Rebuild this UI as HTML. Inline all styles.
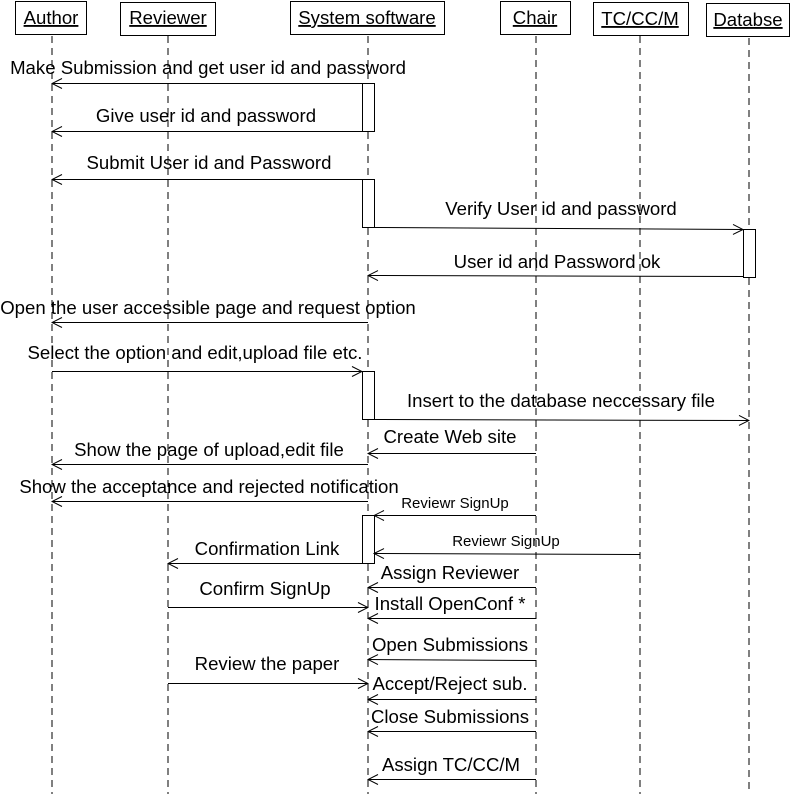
<!DOCTYPE html>
<html><head><style>
html,body{margin:0;padding:0;background:#fff;}
svg{display:block;}
text{font-family:"Liberation Sans",Arial,sans-serif;font-size:18.6px;fill:#000;}
.s{font-size:15px;}
.ll{stroke:#000;stroke-width:1;stroke-dasharray:7,5;}
.m{stroke:#000;stroke-width:1;fill:none;}
</style></head><body>
<svg width="793" height="794" viewBox="0 0 793 794" xmlns="http://www.w3.org/2000/svg">
<defs>
<marker id="a" markerWidth="12" markerHeight="12" refX="11" refY="6" orient="auto" markerUnits="userSpaceOnUse">
<path d="M1,1 L11,6 L1,11" fill="none" stroke="#000" stroke-width="1"/></marker>
</defs>
<line class="ll" x1="52" y1="36" x2="52" y2="794"/>
<line class="ll" x1="168" y1="36" x2="168" y2="794"/>
<line class="ll" x1="368" y1="36" x2="368" y2="794"/>
<line class="ll" x1="536" y1="36" x2="536" y2="794"/>
<line class="ll" x1="640" y1="36" x2="640" y2="794"/>
<line class="ll" x1="749" y1="38" x2="749" y2="794"/>
<g fill="#fff" stroke="#000">
<rect x="15.5" y="1.5" width="71" height="33"/>
<rect x="120.5" y="2.5" width="95" height="33"/>
<rect x="290.5" y="1.5" width="154" height="33"/>
<rect x="500.5" y="1.5" width="70" height="33"/>
<rect x="593.5" y="2.5" width="95" height="33"/>
<rect x="706.5" y="3.5" width="83" height="33"/>
</g>
<g text-anchor="middle" text-decoration="underline">
<text x="51" y="24">Author</text>
<text x="168" y="24">Reviewer</text>
<text x="367" y="24">System software</text>
<text x="535" y="24">Chair</text>
<text x="640" y="25">TC/CC/M</text>
<text x="748" y="26">Databse</text>
</g>
<g fill="#fff" stroke="#000">
<rect x="362.5" y="83.5" width="12" height="48"/>
<rect x="362.5" y="179.5" width="12" height="48"/>
<rect x="743.5" y="229.5" width="12" height="48"/>
<rect x="362.5" y="371.5" width="12" height="48"/>
<rect x="362.5" y="515.5" width="12" height="48"/>
</g>
<g class="m" marker-end="url(#a)">
<line x1="362" y1="83.5" x2="52" y2="83.5"/>
<line x1="362" y1="131.5" x2="52" y2="131.5"/>
<line x1="362" y1="179.5" x2="52" y2="179.5"/>
<line x1="374" y1="227.5" x2="743" y2="229.5"/>
<line x1="743" y1="276.5" x2="368" y2="275.5"/>
<line x1="368" y1="322.5" x2="52" y2="322.5"/>
<line x1="52" y1="371.5" x2="362" y2="371.5"/>
<line x1="374" y1="419.5" x2="749" y2="420.5"/>
<line x1="536" y1="453.5" x2="368" y2="453.5"/>
<line x1="368" y1="464.5" x2="52" y2="464.5"/>
<line x1="368" y1="501.5" x2="52" y2="501.5"/>
<line x1="536" y1="515.5" x2="374" y2="515.5"/>
<line x1="640" y1="554.5" x2="374" y2="553.5"/>
<line x1="362" y1="563.5" x2="168" y2="563.5"/>
<line x1="536" y1="587.5" x2="368" y2="587.5"/>
<line x1="168" y1="607.5" x2="368" y2="607.5"/>
<line x1="536" y1="618.5" x2="368" y2="618.5"/>
<line x1="536" y1="660.5" x2="368" y2="659.5"/>
<line x1="168" y1="683.5" x2="368" y2="683.5"/>
<line x1="536" y1="699.5" x2="368" y2="699.5"/>
<line x1="536" y1="731.5" x2="368" y2="731.5"/>
<line x1="536" y1="779.5" x2="368" y2="779.5"/>
</g>
<g text-anchor="middle">
<text x="208" y="74">Make Submission and get user id and password</text>
<text x="206" y="122">Give user id and password</text>
<text x="209" y="169">Submit User id and Password</text>
<text x="561" y="215">Verify User id and password</text>
<text x="557" y="268">User id and Password ok</text>
<text x="208" y="314">Open the user accessible page and request option</text>
<text x="195" y="359">Select the option and edit,upload file etc.</text>
<text x="561" y="407">Insert to the database neccessary file</text>
<text x="450" y="443">Create Web site</text>
<text x="209" y="456">Show the page of upload,edit file</text>
<text x="209" y="493">Show the acceptance and rejected notification</text>
<text class="s" x="455" y="508">Reviewr SignUp</text>
<text class="s" x="506" y="546">Reviewr SignUp</text>
<text x="267" y="555">Confirmation Link</text>
<text x="450" y="579">Assign Reviewer</text>
<text x="265" y="595">Confirm SignUp</text>
<text x="450" y="610">Install OpenConf *</text>
<text x="450" y="651">Open Submissions</text>
<text x="267" y="670">Review the paper</text>
<text x="450" y="690">Accept/Reject sub.</text>
<text x="450" y="723">Close Submissions</text>
<text x="451" y="771">Assign TC/CC/M</text>
</g>
</svg>
</body></html>
